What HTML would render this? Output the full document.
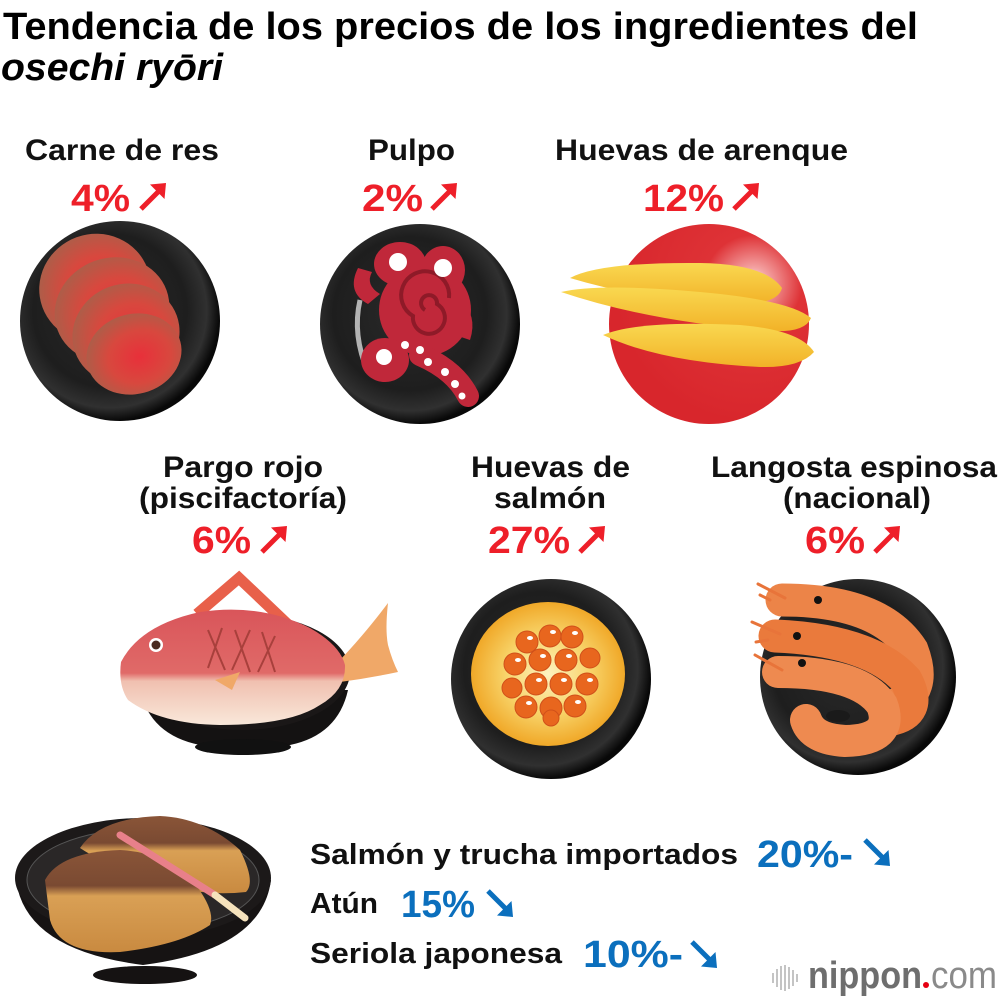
<!DOCTYPE html>
<html><head><meta charset="utf-8"><style>
html,body{margin:0;padding:0;background:#fff;}
svg{display:block;}
text{font-family:"Liberation Sans",Arial,sans-serif;font-weight:bold;}
</style></head><body>
<svg width="1000" height="1000" viewBox="0 0 1000 1000" xmlns="http://www.w3.org/2000/svg">
<defs>
<radialGradient id="pl" cx="45%" cy="45%" r="55%">
<stop offset="0" stop-color="#2a2a2a"/><stop offset="0.7" stop-color="#1e1e1e"/><stop offset="0.88" stop-color="#303030"/><stop offset="1" stop-color="#080808"/>
</radialGradient>
<radialGradient id="beef" cx="55%" cy="55%" r="60%">
<stop offset="0" stop-color="#e8303a"/><stop offset="0.55" stop-color="#d8483e"/><stop offset="1" stop-color="#a8604a"/>
</radialGradient>
<radialGradient id="redpl" cx="72%" cy="30%" r="70%">
<stop offset="0" stop-color="#fff4f4"/><stop offset="0.12" stop-color="#f3a0a0"/><stop offset="0.35" stop-color="#de3236"/><stop offset="1" stop-color="#d8262c"/>
</radialGradient>
<linearGradient id="roe" x1="0" y1="0" x2="0" y2="1">
<stop offset="0" stop-color="#f9d850"/><stop offset="1" stop-color="#f2b228"/>
</linearGradient>
<radialGradient id="ikura" cx="50%" cy="50%" r="50%">
<stop offset="0" stop-color="#fdf2c0"/><stop offset="0.55" stop-color="#f8d46a"/><stop offset="1" stop-color="#f0a828"/>
</radialGradient>
<linearGradient id="fish" x1="0" y1="0" x2="0" y2="1">
<stop offset="0" stop-color="#d9555a"/><stop offset="0.55" stop-color="#e06a68"/><stop offset="0.62" stop-color="#f0c0b0"/><stop offset="1" stop-color="#f9e8da"/>
</linearGradient>
<linearGradient id="yb" x1="0" y1="0" x2="0" y2="1">
<stop offset="0" stop-color="#8a5538"/><stop offset="0.35" stop-color="#7a4a32"/><stop offset="0.45" stop-color="#d9a055"/><stop offset="1" stop-color="#c98a40"/>
</linearGradient>
</defs>

<!-- Title -->
<text x="3" y="39" font-size="38" textLength="915" lengthAdjust="spacingAndGlyphs" fill="#000">Tendencia de los precios de los ingredientes del</text>
<text x="1" y="80" font-size="38" font-style="italic" textLength="222" lengthAdjust="spacingAndGlyphs" fill="#000">osechi ryōri</text>

<!-- Labels -->
<g font-size="30" fill="#111">
<text x="25" y="160" textLength="194" lengthAdjust="spacingAndGlyphs">Carne de res</text>
<text x="368" y="160" textLength="87" lengthAdjust="spacingAndGlyphs">Pulpo</text>
<text x="555" y="160" textLength="293" lengthAdjust="spacingAndGlyphs">Huevas de arenque</text>
<text x="163" y="477" textLength="160" lengthAdjust="spacingAndGlyphs">Pargo rojo</text>
<text x="139" y="508" textLength="208" lengthAdjust="spacingAndGlyphs">(piscifactoría)</text>
<text x="471" y="477" textLength="159" lengthAdjust="spacingAndGlyphs">Huevas de</text>
<text x="494" y="508" textLength="112" lengthAdjust="spacingAndGlyphs">salmón</text>
<text x="711" y="477" textLength="286" lengthAdjust="spacingAndGlyphs">Langosta espinosa</text>
<text x="783" y="508" textLength="148" lengthAdjust="spacingAndGlyphs">(nacional)</text>
</g>
<g font-size="29" fill="#111">
<text x="310" y="864" textLength="428" lengthAdjust="spacingAndGlyphs">Salmón y trucha importados</text>
<text x="310" y="913" textLength="68" lengthAdjust="spacingAndGlyphs">Atún</text>
<text x="310" y="963" textLength="252" lengthAdjust="spacingAndGlyphs">Seriola japonesa</text>
</g>

<!-- Percentages red -->
<g font-size="38" fill="#ee1f29">
<text x="71" y="211" textLength="59" lengthAdjust="spacingAndGlyphs">4%</text>
<text x="362" y="211" textLength="61" lengthAdjust="spacingAndGlyphs">2%</text>
<text x="643" y="211" textLength="81" lengthAdjust="spacingAndGlyphs">12%</text>
<text x="192" y="553" textLength="59" lengthAdjust="spacingAndGlyphs">6%</text>
<text x="488" y="553" textLength="82" lengthAdjust="spacingAndGlyphs">27%</text>
<text x="805" y="553" textLength="60" lengthAdjust="spacingAndGlyphs">6%</text>
</g>
<g fill="#ee1f29" stroke="#ee1f29">
<g transform="translate(138,183)"><line x1="3" y1="26" x2="20" y2="9" stroke-width="5"/><polygon points="28,0 12,1.5 26.5,16" stroke="none"/></g>
<g transform="translate(429,183)"><line x1="3" y1="26" x2="20" y2="9" stroke-width="5"/><polygon points="28,0 12,1.5 26.5,16" stroke="none"/></g>
<g transform="translate(731,183)"><line x1="3" y1="26" x2="20" y2="9" stroke-width="5"/><polygon points="28,0 12,1.5 26.5,16" stroke="none"/></g>
<g transform="translate(259,526)"><line x1="3" y1="26" x2="20" y2="9" stroke-width="5"/><polygon points="28,0 12,1.5 26.5,16" stroke="none"/></g>
<g transform="translate(577,526)"><line x1="3" y1="26" x2="20" y2="9" stroke-width="5"/><polygon points="28,0 12,1.5 26.5,16" stroke="none"/></g>
<g transform="translate(872,526)"><line x1="3" y1="26" x2="20" y2="9" stroke-width="5"/><polygon points="28,0 12,1.5 26.5,16" stroke="none"/></g>
</g>

<!-- Percentages blue -->
<g font-size="38" fill="#0b6fbd">
<text x="757" y="867" textLength="96" lengthAdjust="spacingAndGlyphs">20%-</text>
<text x="401" y="917" textLength="74" lengthAdjust="spacingAndGlyphs">15%</text>
<text x="583" y="967" textLength="100" lengthAdjust="spacingAndGlyphs">10%-</text>
</g>
<g fill="#0b6fbd" stroke="#0b6fbd">
<g transform="translate(862,838)"><line x1="3" y1="2" x2="20" y2="19" stroke-width="5"/><polygon points="28,28 12,26.5 26.5,12" stroke="none"/></g>
<g transform="translate(485,889)"><line x1="3" y1="2" x2="20" y2="19" stroke-width="5"/><polygon points="28,28 12,26.5 26.5,12" stroke="none"/></g>
<g transform="translate(689,940)"><line x1="3" y1="2" x2="20" y2="19" stroke-width="5"/><polygon points="28,28 12,26.5 26.5,12" stroke="none"/></g>
</g>

<!-- Plate 1: beef -->
<ellipse cx="120" cy="321" rx="100" ry="100" fill="url(#pl)"/>
<ellipse cx="95" cy="288" rx="56" ry="54" fill="url(#beef)" transform="rotate(-20 95 288)"/>
<ellipse cx="112" cy="310" rx="58" ry="52" fill="url(#beef)" transform="rotate(-20 112 310)"/>
<ellipse cx="126" cy="334" rx="54" ry="50" fill="url(#beef)" transform="rotate(-20 126 334)"/>
<ellipse cx="134" cy="354" rx="48" ry="40" fill="url(#beef)" transform="rotate(-15 134 354)"/>

<!-- Plate 2: octopus -->
<ellipse cx="420" cy="324" rx="100" ry="100" fill="url(#pl)"/>
<path d="M360,300 Q352,335 368,372" fill="none" stroke="#d8d8d8" stroke-width="5" opacity="0.8"/>
<g fill="#c0283a">
<ellipse cx="400" cy="264" rx="26" ry="22"/>
<ellipse cx="443" cy="270" rx="22" ry="24"/>
<circle cx="425" cy="310" r="46"/>
<ellipse cx="385" cy="360" rx="24" ry="22"/>
<path d="M358,268 Q346,292 368,304 L380,294 Q365,285 372,272 Z"/>
<path d="M460,300 Q478,315 470,340 L455,335 Z"/>
</g>
<path d="M420,355 Q455,370 468,396" fill="none" stroke="#c0283a" stroke-width="22" stroke-linecap="round"/>
<path d="M425,310 m0,0 a8,8 0 1,1 12,-6 a16,16 0 1,1 -24,12 a24,24 0 1,1 36,-18" fill="none" stroke="#8e1a28" stroke-width="4"/>
<g fill="#fff">
<circle cx="398" cy="262" r="9"/><circle cx="443" cy="268" r="9"/>
<circle cx="384" cy="357" r="8"/><circle cx="420" cy="350" r="4"/><circle cx="428" cy="362" r="4"/>
<circle cx="445" cy="372" r="4"/><circle cx="455" cy="384" r="4"/><circle cx="462" cy="396" r="3.5"/>
<circle cx="405" cy="345" r="4"/>
</g>

<!-- Plate 3: herring roe -->
<ellipse cx="709" cy="324" rx="100" ry="100" fill="url(#redpl)"/>
<path d="M570,278 Q600,262 700,263 Q765,264 782,288 Q778,304 740,304 Q650,302 570,278 Z" fill="url(#roe)"/>
<path d="M561,292 Q600,283 700,292 Q790,300 811,318 Q805,333 770,331 Q650,322 561,292 Z" fill="url(#roe)"/>
<path d="M603,335 Q640,320 740,325 Q800,330 814,352 Q800,368 760,367 Q660,362 603,335 Z" fill="url(#roe)"/>

<!-- Fish bowl -->
<path d="M140,690 Q150,735 200,745 L290,745 Q338,735 348,690 Z" fill="#141212"/>
<ellipse cx="243" cy="747" rx="48" ry="8" fill="#111"/>
<polyline points="197,614 239,578 320,655" fill="none" stroke="#e8604a" stroke-width="11"/>
<ellipse cx="242" cy="672" rx="108" ry="58" fill="#1a1717"/>
<ellipse cx="242" cy="668" rx="98" ry="50" fill="#2a2626"/>
<path d="M335,665 Q360,640 388,603 Q385,630 388,645 Q392,660 398,672 Q370,678 340,682 Z" fill="#f0a868"/>
<path d="M205,615 Q250,600 305,640 L290,645 Q250,625 210,625 Z" fill="#f0a868"/>
<path d="M121,662 Q140,625 200,612 Q260,603 310,628 Q340,645 345,665 Q346,690 320,705 Q290,725 220,725 Q160,724 128,700 Q118,685 121,662 Z" fill="url(#fish)"/>
<path d="M215,680 L240,672 L232,690 Z" fill="#f0a868"/>
<g stroke="#a8403c" stroke-width="2" fill="none">
<path d="M208,630 L225,670 M222,628 L208,668 M235,630 L250,672 M250,630 L232,670 M262,632 L275,672 M275,636 L258,672"/>
</g>
<circle cx="156" cy="645" r="7" fill="#fff"/><circle cx="156" cy="645" r="4.5" fill="#4a2a20"/>

<!-- Salmon roe plate -->
<ellipse cx="551" cy="679" rx="100" ry="100" fill="url(#pl)"/>
<ellipse cx="548" cy="674" rx="77" ry="72" fill="url(#ikura)"/>
<g fill="#e8661e" stroke="#d0501a" stroke-width="1">
<circle cx="527" cy="642" r="11"/><circle cx="550" cy="636" r="11"/><circle cx="572" cy="637" r="11"/>
<circle cx="590" cy="658" r="10"/><circle cx="515" cy="664" r="11"/><circle cx="540" cy="660" r="11"/>
<circle cx="566" cy="660" r="11"/><circle cx="512" cy="688" r="10"/><circle cx="536" cy="684" r="11"/>
<circle cx="561" cy="684" r="11"/><circle cx="587" cy="684" r="11"/><circle cx="526" cy="707" r="11"/>
<circle cx="551" cy="708" r="11"/><circle cx="575" cy="706" r="11"/><circle cx="551" cy="718" r="8"/>
</g>
<g fill="#fff">
<ellipse cx="530" cy="638" rx="3" ry="2"/><ellipse cx="553" cy="632" rx="3" ry="2"/><ellipse cx="575" cy="633" rx="3" ry="2"/>
<ellipse cx="518" cy="660" rx="3" ry="2"/><ellipse cx="543" cy="656" rx="3" ry="2"/><ellipse cx="569" cy="656" rx="3" ry="2"/>
<ellipse cx="539" cy="680" rx="3" ry="2"/><ellipse cx="564" cy="680" rx="3" ry="2"/><ellipse cx="590" cy="680" rx="3" ry="2"/>
<ellipse cx="529" cy="703" rx="3" ry="2"/><ellipse cx="578" cy="702" rx="3" ry="2"/>
</g>

<!-- Shrimp plate -->
<ellipse cx="858" cy="677" rx="98" ry="98" fill="url(#pl)"/>
<g fill="none" stroke-linecap="round">
<path d="M782,600 Q880,600 912,650 Q928,692 895,705" stroke="#ec8448" stroke-width="33"/>
<path d="M775,636 Q870,640 906,680 Q924,714 888,720" stroke="#ea7a3c" stroke-width="33"/>
<path d="M778,672 Q860,672 882,705 Q895,740 845,741 Q812,739 806,720" stroke="#ee8a50" stroke-width="32"/>
<path d="M785,598 L758,584 M780,634 L752,622 M782,670 L755,655 M770,600 L760,595 M768,640 L756,642" stroke="#e8743a" stroke-width="3"/>
</g>
<circle cx="818" cy="600" r="4" fill="#111"/><circle cx="797" cy="636" r="4" fill="#111"/><circle cx="802" cy="663" r="4" fill="#111"/>
<ellipse cx="838" cy="716" rx="12" ry="6" fill="#1a1a1a"/>

<!-- Bottom bowl -->
<path d="M16,880 Q25,950 143,965 Q262,950 271,880 Z" fill="#161313"/>
<ellipse cx="145" cy="975" rx="52" ry="9" fill="#151212"/>
<ellipse cx="143" cy="878" rx="128" ry="60" fill="#1c1919"/>
<ellipse cx="143" cy="880" rx="116" ry="51" fill="#2a2727" stroke="#555" stroke-width="1"/>
<path d="M80,848 Q100,818 160,816 Q205,818 240,850 Q256,882 246,892 Q200,897 160,882 Q110,868 80,848 Z" fill="url(#yb)"/>
<path d="M45,880 Q60,852 120,850 Q162,852 192,880 Q216,910 210,925 Q180,945 120,952 Q60,955 50,920 Z" fill="url(#yb)"/>
<line x1="120" y1="835" x2="215" y2="895" stroke="#e8808a" stroke-width="7" stroke-linecap="round"/>
<line x1="215" y1="895" x2="245" y2="918" stroke="#f5e2bc" stroke-width="7" stroke-linecap="round"/>

<!-- Logo -->
<g fill="#c4c4c4">
<rect x="772" y="973" width="2" height="10"/><rect x="776" y="969" width="2" height="18"/>
<rect x="780" y="966" width="2" height="24"/><rect x="784" y="965" width="2" height="26"/>
<rect x="788" y="967" width="2" height="22"/><rect x="792" y="970" width="2" height="16"/>
<rect x="796" y="974" width="2" height="8"/>
</g>
<text x="808" y="988" font-size="38" fill="#6e6e6e" textLength="114" lengthAdjust="spacingAndGlyphs" font-weight="bold">nippon</text>
<circle cx="926" cy="985" r="3" fill="#e60012"/>
<text x="931" y="988" font-size="38" fill="#8a8a8a" style="font-weight:normal" textLength="66" lengthAdjust="spacingAndGlyphs">com</text>
</svg>
</body></html>
